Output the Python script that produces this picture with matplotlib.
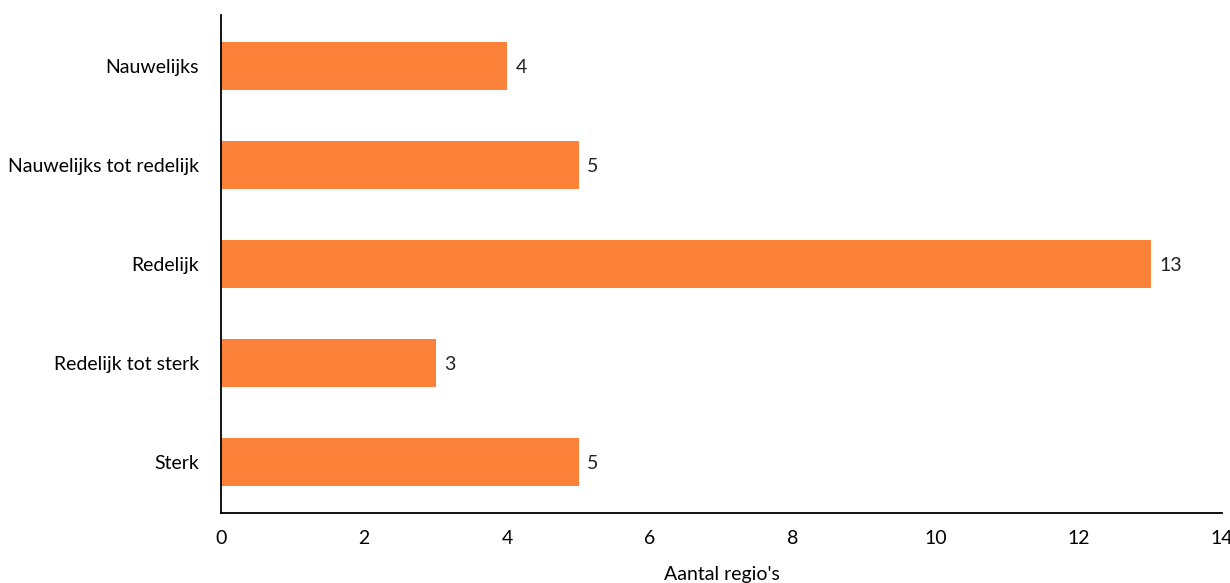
import matplotlib.pyplot as plt

# data
categories = ["Nauwelijks", "Nauwelijks tot redelijk", "Redelijk", "Redelijk tot sterk", "Sterk"]
counts = [4, 5, 13, 3, 5]

plt.rcParams['font.family'] = ['Lato', 'DejaVu Sans']

fig = plt.figure(figsize=(12.3, 5.83), dpi=100)
ax = fig.add_axes([0.1797, 0.1201, 0.8138, 0.8542])

bars = ax.barh(range(len(categories)), counts, height=0.485, color='#FB8238')
ax.set_yticks(range(len(categories)))
ax.set_yticklabels(categories, fontsize=14, va='center_baseline')
ax.set_ylim(len(categories) - 0.485, -0.515)

ax.set_xlim(0, 14)
ax.set_xticks(range(0, 15, 2))
ax.tick_params(axis='x', length=0, pad=12, labelsize=14)
ax.tick_params(axis='y', length=0, pad=16)

for b, v in zip(bars, counts):
    ax.text(b.get_width() + 0.12, b.get_y() + b.get_height() / 2, str(v),
            va='center_baseline', ha='left', fontsize=14, color='#222222')

ax.set_xlabel("Aantal regio's", fontsize=14, labelpad=14)

for s in ['top', 'right']:
    ax.spines[s].set_visible(False)
for s in ['left', 'bottom']:
    ax.spines[s].set_linewidth(1.3)

fig.savefig('out.png', dpi=100)
